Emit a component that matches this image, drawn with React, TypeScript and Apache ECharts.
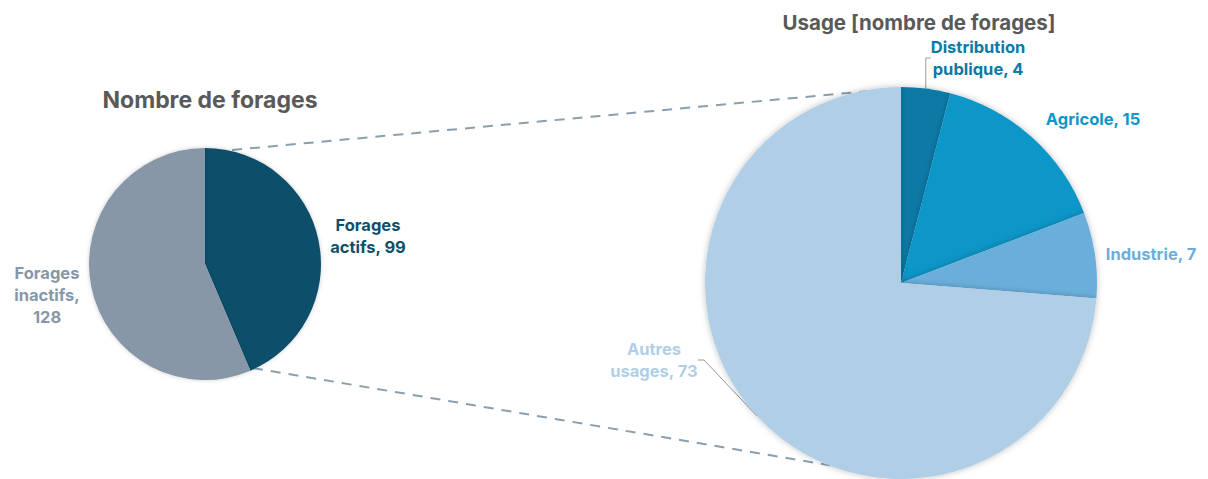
import React, { useEffect, useRef } from "react";
import * as echarts from "echarts";

const leftNames = ["Forages actifs", "Forages inactifs"];
const leftValues = [99, 128];
const leftColors = ["#0e4f6b", "#8797a8"];

const rightNames = ["Distribution publique", "Agricole", "Industrie", "Autres usages"];
const rightValues = [4, 15, 7, 73];
const rightColors = ["#0a7aa6", "#0d96c8", "#6aafdb", "#b0cfe7"];

const leftLabelText = ["Forages\nactifs, 99", "Forages\ninactifs,\n128"];
const rightLabelText = ["Distribution\npublique, 4", "Agricole, 15", "Industrie, 7", "Autres\nusages, 73"];
const leftLabelPos = [[368, 236], [47, 295]];
const rightLabelPos = [[978, 58], [1093, 119], [1151, 254], [654, 360]];

const FONT = "Inter, 'Noto Sans', sans-serif";

export default function App() {
  const ref = useRef<HTMLDivElement>(null);
  useEffect(() => {
    document.body.style.margin = "0";
    const chart = echarts.init(ref.current!, null, { renderer: "svg" });
    const labelStyle = { fontFamily: FONT, fontWeight: "bold" as const, fontSize: 16.5, lineHeight: 22, overflow: "none" as const };
    chart.setOption({
      animation: false,
      backgroundColor: "#ffffff",
      title: [
        {
          text: "Nombre de forages",
          left: 205,
          top: 83,
          textAlign: "center",
          textStyle: { fontFamily: FONT, fontWeight: "bold", fontSize: 23, color: "#595959" },
        },
        {
          text: "Usage [nombre de forages]",
          left: 914,
          top: 7,
          textAlign: "center",
          textStyle: { fontFamily: FONT, fontWeight: "bold", fontSize: 20.5, color: "#595959" },
        },
      ],
      graphic: [
        {
          type: "line",
          z: 0,
          shape: { x1: 232, y1: 150, x2: 880, y2: 90 },
          style: { stroke: "#8a9fae", lineWidth: 2, lineDash: [10, 8] },
        },
        {
          type: "line",
          z: 0,
          shape: { x1: 253, y1: 368, x2: 840, y2: 467 },
          style: { stroke: "#8a9fae", lineWidth: 2, lineDash: [10, 8] },
        },
      ],
      series: [
        {
          type: "pie",
          center: [205, 264],
          radius: 116,
          startAngle: 90,
          clockwise: true,
          z: 3,
          itemStyle: { shadowBlur: 4, shadowColor: "rgba(0,0,0,0.2)" },
          label: { show: true, position: "outside", ...labelStyle, align: "center", formatter: (p: any) => leftLabelText[p.dataIndex] },
          labelLine: { show: false },
          labelLayout: (p: any) => ({ x: leftLabelPos[p.dataIndex][0], y: leftLabelPos[p.dataIndex][1], align: "center", verticalAlign: "middle" }),
          data: leftNames.map((n, i) => ({
            name: n,
            value: leftValues[i],
            itemStyle: { color: leftColors[i] },
            label: { color: leftColors[i] },
          })),
        },
        {
          type: "pie",
          center: [901, 283],
          radius: 196,
          startAngle: 90,
          clockwise: true,
          z: 3,
          itemStyle: { shadowBlur: 6, shadowColor: "rgba(0,0,0,0.25)" },
          label: { show: true, position: "outside", ...labelStyle, align: "center", formatter: (p: any) => rightLabelText[p.dataIndex] },
          labelLine: { show: true, length: 6, length2: 6, lineStyle: { color: "#999999", width: 1 } },
          labelLayout: (p: any) => ({ x: rightLabelPos[p.dataIndex][0], y: rightLabelPos[p.dataIndex][1], align: "center", verticalAlign: "middle" }),
          data: rightNames.map((n, i) => ({
            name: n,
            value: rightValues[i],
            itemStyle: { color: rightColors[i] },
            label: { color: rightColors[i] },
            labelLine: { show: i === 0 || i === 3 },
          })),
        },
      ],
    });
    return () => chart.dispose();
  }, []);
  return <div ref={ref} style={{ width: 1208, height: 479 }} />;
}
